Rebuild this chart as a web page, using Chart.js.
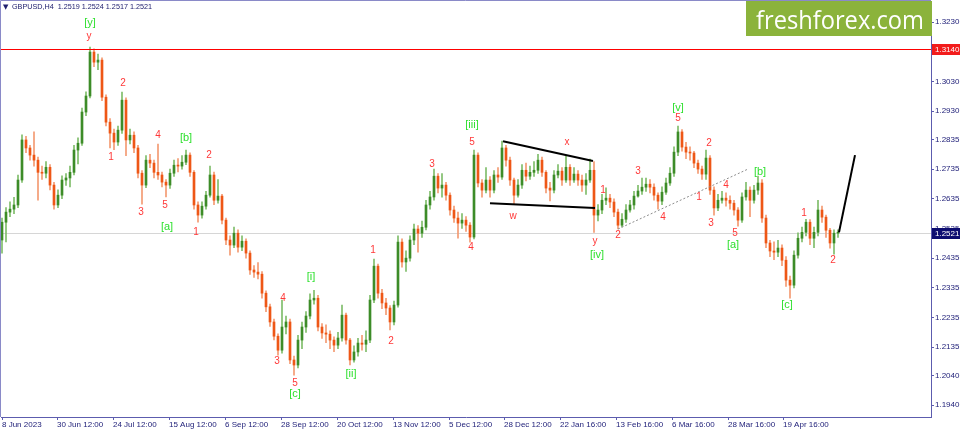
<!DOCTYPE html>
<html><head><meta charset="utf-8">
<script src="https://cdn.jsdelivr.net/npm/chart.js@4.4.1/dist/chart.umd.min.js"></script>
<style>html,body{margin:0;padding:0;background:#fff;overflow:hidden}canvas{display:block}</style>
</head><body>
<canvas id="c" width="960" height="430"></canvas>
<script>
const symbolTitle = 'GBPUSD,H4  1.2519 1.2524 1.2517 1.2521';
const brandText = 'freshforex.com';
const tickLabels = ['8 Jun 2023','30 Jun 12:00','24 Jul 12:00','15 Aug 12:00','6 Sep 12:00','28 Sep 12:00','20 Oct 12:00','13 Nov 12:00','5 Dec 12:00','28 Dec 12:00','22 Jan 16:00','13 Feb 16:00','6 Mar 16:00','28 Mar 16:00','19 Apr 16:00'];
const tickBars = [0,13.75,27.75,41.75,55.75,69.75,83.75,97.75,111.75,125.5,139.5,153.5,167.5,181.5,195.25];
const priceTicks = [1.3230,1.3130,1.3030,1.2930,1.2835,1.2735,1.2635,1.2535,1.2435,1.2335,1.2235,1.2135,1.2040,1.1940];
const levelPrice = 1.3140;
const lastPrice = 1.2521;

const opens = [1.2496,1.2556,1.2590,1.2600,1.2614,1.2698,1.2833,1.2806,1.2782,1.2765,
1.2724,1.2721,1.2741,1.2681,1.2614,1.2647,1.2698,1.2705,1.2724,1.2799,
1.2822,1.2927,1.2981,1.3129,1.3095,1.3102,1.2977,1.2893,1.2856,1.2826,
1.2866,1.2967,1.2833,1.2849,1.2806,1.2721,1.2681,1.2765,1.2755,1.2724,
1.2715,1.2691,1.2681,1.2721,1.2748,1.2745,1.2758,1.2782,1.2724,1.2614,
1.2580,1.2610,1.2647,1.2715,1.2630,1.2644,1.2563,1.2496,1.2479,1.2519,
1.2472,1.2492,1.2452,1.2395,1.2388,1.2381,1.2317,1.2271,1.2220,1.2172,
1.2125,1.2203,1.2220,1.2092,1.2075,1.2159,1.2203,1.2240,1.2294,1.2300,
1.2203,1.2183,1.2179,1.2159,1.2142,1.2166,1.2243,1.2159,1.2092,1.2119,
1.2149,1.2145,1.2159,1.2294,1.2408,1.2317,1.2284,1.2267,1.2220,1.2277,
1.2489,1.2422,1.2435,1.2496,1.2533,1.2519,1.2539,1.2614,1.2641,1.2711,
1.2671,1.2681,1.2647,1.2597,1.2570,1.2553,1.2563,1.2546,1.2506,1.2782,
1.2688,1.2664,1.2698,1.2664,1.2715,1.2708,1.2806,1.2765,1.2698,1.2647,
1.2681,1.2731,1.2711,1.2724,1.2731,1.2765,1.2724,1.2671,1.2664,1.2715,
1.2728,1.2698,1.2741,1.2698,1.2718,1.2698,1.2681,1.2698,1.2731,1.2580,
1.2597,1.2630,1.2637,1.2624,1.2590,1.2546,1.2566,1.2597,1.2614,1.2644,
1.2661,1.2674,1.2684,1.2674,1.2647,1.2627,1.2657,1.2688,1.2721,1.2792,
1.2860,1.2809,1.2792,1.2789,1.2755,1.2735,1.2718,1.2772,1.2664,1.2604,
1.2630,1.2637,1.2630,1.2620,1.2597,1.2563,1.2641,1.2664,1.2630,1.2664,
1.2688,1.2570,1.2486,1.2459,1.2455,1.2469,1.2428,1.2361,1.2344,1.2445,
1.2502,1.2522,1.2556,1.2502,1.2522,1.2597,1.2573,1.2529,1.2486,1.2519];

const highs = [1.2570,1.2605,1.2625,1.2640,1.2715,1.2850,1.2845,1.2815,1.2860,1.2775,
1.2745,1.2760,1.2750,1.2690,1.2665,1.2712,1.2720,1.2745,1.2815,1.2840,
1.2940,1.2995,1.3146,1.3140,1.3122,1.3110,1.2985,1.2905,1.2870,1.2880,
1.2994,1.2975,1.2870,1.2860,1.2815,1.2730,1.2780,1.2785,1.2765,1.2819,
1.2725,1.2700,1.2735,1.2765,1.2770,1.2780,1.2799,1.2790,1.2730,1.2625,
1.2625,1.2660,1.2745,1.2725,1.2700,1.2650,1.2570,1.2510,1.2540,1.2530,
1.2510,1.2500,1.2460,1.2410,1.2420,1.2390,1.2325,1.2280,1.2230,1.2180,
1.2294,1.2240,1.2230,1.2105,1.2175,1.2220,1.2255,1.2315,1.2327,1.2310,
1.2215,1.2210,1.2190,1.2170,1.2185,1.2277,1.2250,1.2165,1.2140,1.2165,
1.2175,1.2190,1.2310,1.2432,1.2415,1.2330,1.2300,1.2275,1.2290,1.2510,
1.2500,1.2460,1.2510,1.2550,1.2545,1.2560,1.2630,1.2660,1.2735,1.2720,
1.2720,1.2690,1.2655,1.2610,1.2590,1.2585,1.2575,1.2555,1.2799,1.2790,
1.2700,1.2740,1.2710,1.2730,1.2740,1.2829,1.2815,1.2775,1.2705,1.2700,
1.2750,1.2755,1.2745,1.2760,1.2785,1.2775,1.2730,1.2690,1.2730,1.2750,
1.2740,1.2780,1.2750,1.2740,1.2730,1.2715,1.2720,1.2769,1.2760,1.2615,
1.2650,1.2672,1.2650,1.2635,1.2600,1.2585,1.2615,1.2630,1.2660,1.2680,
1.2705,1.2705,1.2700,1.2685,1.2655,1.2675,1.2705,1.2740,1.2810,1.2880,
1.2868,1.2825,1.2810,1.2795,1.2765,1.2745,1.2799,1.2780,1.2675,1.2650,
1.2660,1.2655,1.2645,1.2630,1.2605,1.2655,1.2690,1.2675,1.2680,1.2711,
1.2700,1.2580,1.2495,1.2490,1.2495,1.2480,1.2440,1.2375,1.2460,1.2520,
1.2540,1.2566,1.2565,1.2540,1.2630,1.2610,1.2580,1.2535,1.2530,1.2530];

const lows = [1.2452,1.2490,1.2575,1.2585,1.2605,1.2690,1.2790,1.2765,1.2745,1.2630,
1.2700,1.2705,1.2665,1.2600,1.2605,1.2635,1.2680,1.2675,1.2715,1.2752,
1.2815,1.2915,1.2975,1.3080,1.3070,1.2965,1.2880,1.2806,1.2800,1.2815,
1.2855,1.2780,1.2820,1.2790,1.2705,1.2617,1.2672,1.2740,1.2705,1.2700,
1.2675,1.2641,1.2670,1.2710,1.2725,1.2735,1.2750,1.2710,1.2600,1.2556,
1.2570,1.2600,1.2640,1.2615,1.2620,1.2550,1.2480,1.2445,1.2470,1.2455,
1.2460,1.2435,1.2380,1.2370,1.2365,1.2300,1.2255,1.2205,1.2160,1.2108,
1.2115,1.2180,1.2080,1.2041,1.2065,1.2130,1.2185,1.2230,1.2280,1.2190,
1.2165,1.2150,1.2130,1.2120,1.2130,1.2155,1.2145,1.2075,1.2085,1.2105,
1.2125,1.2120,1.2150,1.2285,1.2300,1.2265,1.2245,1.2193,1.2210,1.2270,
1.2405,1.2390,1.2425,1.2480,1.2455,1.2505,1.2530,1.2600,1.2630,1.2655,
1.2640,1.2630,1.2580,1.2555,1.2502,1.2535,1.2525,1.2489,1.2500,1.2675,
1.2640,1.2655,1.2640,1.2655,1.2690,1.2700,1.2745,1.2680,1.2617,1.2640,
1.2670,1.2695,1.2700,1.2710,1.2720,1.2710,1.2655,1.2628,1.2655,1.2705,
1.2680,1.2690,1.2680,1.2690,1.2680,1.2660,1.2650,1.2690,1.2522,1.2560,
1.2585,1.2615,1.2605,1.2575,1.2533,1.2540,1.2555,1.2590,1.2600,1.2640,
1.2650,1.2660,1.2655,1.2630,1.2600,1.2615,1.2650,1.2680,1.2710,1.2780,
1.2795,1.2770,1.2765,1.2740,1.2720,1.2700,1.2700,1.2650,1.2580,1.2595,
1.2620,1.2610,1.2600,1.2580,1.2543,1.2555,1.2630,1.2575,1.2620,1.2650,
1.2555,1.2470,1.2440,1.2430,1.2440,1.2410,1.2340,1.2300,1.2335,1.2435,
1.2490,1.2510,1.2480,1.2470,1.2510,1.2555,1.2505,1.2469,1.2448,1.2505];

const closes = [1.2556,1.2590,1.2600,1.2614,1.2698,1.2833,1.2806,1.2782,1.2765,1.2724,
1.2721,1.2741,1.2681,1.2614,1.2647,1.2698,1.2705,1.2724,1.2799,1.2822,
1.2927,1.2981,1.3129,1.3095,1.3102,1.2977,1.2893,1.2856,1.2826,1.2866,
1.2967,1.2833,1.2849,1.2806,1.2721,1.2681,1.2765,1.2755,1.2724,1.2715,
1.2691,1.2681,1.2721,1.2748,1.2745,1.2758,1.2782,1.2724,1.2614,1.2580,
1.2610,1.2647,1.2715,1.2630,1.2644,1.2563,1.2496,1.2479,1.2519,1.2472,
1.2492,1.2452,1.2395,1.2388,1.2381,1.2317,1.2271,1.2220,1.2172,1.2125,
1.2203,1.2220,1.2092,1.2075,1.2159,1.2203,1.2240,1.2294,1.2300,1.2203,
1.2183,1.2179,1.2159,1.2142,1.2166,1.2243,1.2159,1.2092,1.2119,1.2149,
1.2145,1.2159,1.2294,1.2408,1.2317,1.2284,1.2267,1.2220,1.2277,1.2489,
1.2422,1.2435,1.2496,1.2533,1.2519,1.2539,1.2614,1.2641,1.2711,1.2671,
1.2681,1.2647,1.2597,1.2570,1.2553,1.2563,1.2546,1.2506,1.2782,1.2688,
1.2664,1.2698,1.2664,1.2715,1.2708,1.2806,1.2765,1.2698,1.2647,1.2681,
1.2731,1.2711,1.2724,1.2731,1.2765,1.2724,1.2671,1.2664,1.2715,1.2728,
1.2698,1.2741,1.2698,1.2718,1.2698,1.2681,1.2698,1.2731,1.2580,1.2597,
1.2630,1.2637,1.2624,1.2590,1.2546,1.2566,1.2597,1.2614,1.2644,1.2661,
1.2674,1.2684,1.2674,1.2647,1.2627,1.2657,1.2688,1.2721,1.2792,1.2860,
1.2809,1.2792,1.2789,1.2755,1.2735,1.2718,1.2772,1.2664,1.2604,1.2630,
1.2637,1.2630,1.2620,1.2597,1.2563,1.2641,1.2664,1.2630,1.2664,1.2688,
1.2570,1.2486,1.2459,1.2455,1.2469,1.2428,1.2361,1.2344,1.2445,1.2502,
1.2522,1.2556,1.2502,1.2522,1.2597,1.2573,1.2529,1.2486,1.2519,1.2521];

// wave labels: [text, bar index, price, kind]
const waveLabels = [
['[y]',22,1.3227,'g'],['y',21.75,1.3183,'r'],['2',30.25,1.3025,'r'],['1',27.25,1.2775,'r'],
['3',34.75,1.2590,'r'],['4',39,1.2849,'r'],['[b]',46,1.2839,'g'],['5',40.75,1.2614,'r'],
['[a]',41.25,1.2539,'g'],['2',51.75,1.2782,'r'],['1',48.5,1.2522,'r'],['4',70.25,1.2300,'r'],
['3',68.75,1.2088,'r'],['5',73.25,1.2014,'r'],['[c]',73.25,1.1977,'g'],['[i]',77.25,1.2371,'g'],
['[ii]',87.25,1.2045,'g'],['1',92.75,1.2462,'r'],['2',97.25,1.2156,'r'],['3',107.5,1.2752,'r'],
['4',117.25,1.2472,'r'],['[iii]',117.5,1.2883,'g'],['5',117.5,1.2826,'r'],['x',141.25,1.2826,'r'],
['w',127.75,1.2577,'r'],['y',148.25,1.2492,'r'],['[iv]',148.75,1.2445,'g'],['1',150.25,1.2664,'r'],
['2',154,1.2513,'r'],['3',159,1.2728,'r'],['4',165.25,1.2573,'r'],['[v]',169,1.2940,'g'],
['5',169,1.2907,'r'],['2',176.75,1.2822,'r'],['1',174.25,1.2641,'r'],['4',181,1.2681,'r'],
['3',177.25,1.2553,'r'],['5',183.25,1.2519,'r'],['[a]',182.75,1.2479,'g'],['[b]',189.5,1.2725,'g'],
['[c]',196.25,1.2277,'g'],['1',200.5,1.2587,'r'],['2',207.75,1.2428,'r']
];
const triangleTop = [[125.25,1.2829],[147.75,1.2762]];
const triangleBottom = [[122,1.2620],[148.25,1.2604]];
const trendDotted = [[154,1.2533],[186.5,1.2735]];
const forecastLine = [[209.25,1.2522],[213.25,1.2782]];

const bars = closes.map((_, i) => i);
const isUp = i => closes[i] >= opens[i];
const pts = arr => arr.map(p => ({x: p[0], y: p[1]}));
const FONT = 'Liberation Sans, Arial, sans-serif';

const deco = {
  id: 'deco',
  beforeDatasetsDraw(chart) {
    const {ctx, chartArea: a, scales: {y}} = chart;
    ctx.save();
    ctx.fillStyle = '#d6d6d6';
    ctx.fillRect(a.left, Math.round(y.getPixelForValue(lastPrice)), a.right - a.left, 1);
    ctx.restore();
  },
  afterDatasetsDraw(chart) {
    const {ctx, chartArea: a, scales: {x, y}} = chart;
    ctx.save();
    ctx.fillStyle = '#ff0000';
    ctx.fillRect(a.left, Math.round(y.getPixelForValue(levelPrice)), a.right - a.left, 1);
    ctx.textAlign = 'center'; ctx.textBaseline = 'middle';
    waveLabels.forEach(([t, i, p, k]) => {
      ctx.fillStyle = k === 'g' ? '#2fe02f' : '#ff3838';
      ctx.font = (k === 'g' ? '11px ' : '10px ') + FONT;
      ctx.fillText(t, x.getPixelForValue(i), y.getPixelForValue(p));
    });
    ctx.restore();
  },
  afterDraw(chart) {
    const {ctx, chartArea: a, scales: {y}} = chart;
    ctx.save();
    ctx.strokeStyle = '#8a8ac8'; ctx.lineWidth = 1;
    ctx.beginPath(); ctx.moveTo(0.5, a.bottom); ctx.lineTo(0.5, 0.5); ctx.lineTo(a.right, 0.5); ctx.stroke();
    ctx.fillStyle = '#20206e';
    ctx.font = '7px DejaVu Sans, sans-serif'; ctx.textBaseline = 'middle'; ctx.textAlign = 'left';
    ctx.fillText('\u25BC', 3, 7);
    ctx.font = '8px ' + FONT;
    const tw = ctx.measureText(symbolTitle).width;
    ctx.save(); ctx.translate(12, 7); ctx.scale(140 / tw, 1); ctx.fillText(symbolTitle, 0, 0); ctx.restore();
    ctx.fillStyle = '#8bb33b';
    ctx.fillRect(746, 1, 186, 35);
    ctx.fillStyle = '#ffffff';
    ctx.font = '25px Open Sans, sans-serif';
    const w = ctx.measureText(brandText).width;
    ctx.save(); ctx.translate(756, 29); ctx.scale(168 / w, 1);
    ctx.textBaseline = 'alphabetic'; ctx.fillText(brandText, 0, 0); ctx.restore();
    const box = (p, bg) => {
      const yy = Math.round(y.getPixelForValue(p));
      ctx.fillStyle = bg; ctx.fillRect(a.right + 1, yy - 5, 29, 11);
      ctx.fillStyle = '#ffffff'; ctx.font = '8px ' + FONT; ctx.textBaseline = 'middle'; ctx.textAlign = 'left';
      ctx.fillText(p.toFixed(4), a.right + 4, yy + 0.5);
    };
    box(levelPrice, '#f21c1c');
    box(lastPrice, '#0c0c70');
    ctx.restore();
  }
};

const lineDs = (arr, color, width, dash) => ({
  type: 'line', data: pts(arr), borderColor: color, borderWidth: width, borderDash: dash || [],
  pointRadius: 0, fill: false, tension: 0, order: 0
});

const noPad = s => { s.paddingTop = 0; s.paddingBottom = 0; s.paddingLeft = 0; s.paddingRight = 0; };

new Chart(document.getElementById('c'), {
  type: 'bar',
  data: {
    datasets: [
      { data: bars.map(i => ({x: i, y: [lows[i], highs[i]]})), barThickness: 1, order: 3,
        backgroundColor: c => isUp(c.dataIndex) ? '#7fbd6a' : '#f39a72', borderWidth: 0, grouped: false },
      { data: bars.map(i => ({x: i, y: [opens[i], closes[i]]})), barThickness: 2, minBarLength: 1, order: 2,
        backgroundColor: c => isUp(c.dataIndex) ? '#3d8c28' : '#ee5716', borderWidth: 0, grouped: false },
      lineDs(triangleTop, '#000000', 2),
      lineDs(triangleBottom, '#000000', 2),
      lineDs(trendDotted, '#8c8c8c', 1, [2, 2]),
      lineDs(forecastLine, '#000000', 2)
    ]
  },
  options: {
    responsive: false, animation: false, devicePixelRatio: 1,
    layout: {padding: {left: 1, top: 1, right: 0, bottom: 0}},
    plugins: {legend: {display: false}, tooltip: {enabled: false}},
    scales: {
      x: {
        type: 'linear', min: -0.25, max: 232.25, offset: false,
        grid: {display: true, drawOnChartArea: false, drawTicks: true, tickLength: 3, color: '#5c5cae', offset: false},
        border: {display: true, color: '#5c5cae'},
        ticks: {autoSkip: false, maxRotation: 0, align: 'start', padding: 0, color: '#22227a',
          font: {family: FONT, size: 8}, callback: (v, i) => tickLabels[i]},
        afterBuildTicks: s => { s.ticks = tickBars.map(v => ({value: v})); },
        afterFit: s => { s.height = 13; noPad(s); }
      },
      y: {
        type: 'linear', position: 'right', min: 1.1900, max: 1.3301,
        grid: {display: true, drawOnChartArea: false, drawTicks: true, tickLength: 3, color: '#5c5cae'},
        border: {display: true, color: '#5c5cae'},
        ticks: {padding: 1, color: '#22227a', font: {family: FONT, size: 8}, callback: v => Number(v).toFixed(4)},
        afterBuildTicks: s => { s.ticks = priceTicks.map(v => ({value: v})); },
        afterFit: s => { s.width = 29; noPad(s); }
      }
    }
  },
  plugins: [deco]
});
</script>
</body></html>
